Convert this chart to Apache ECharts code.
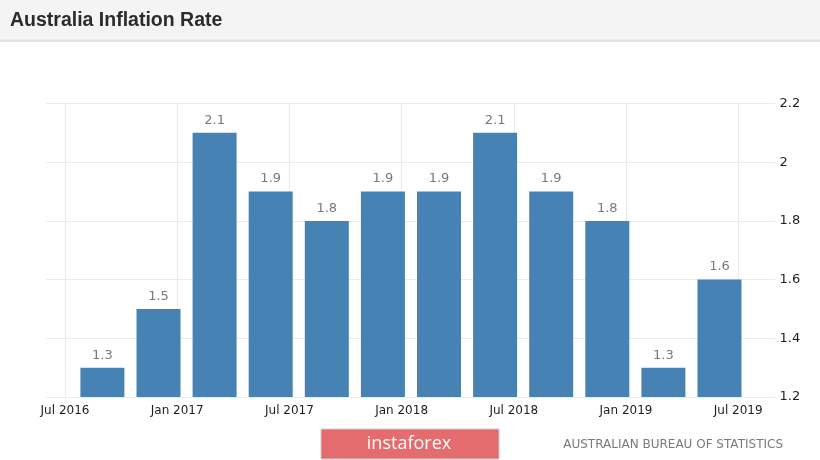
<!DOCTYPE html>
<html>
<head>
<meta charset="utf-8">
<script src="https://cdn.jsdelivr.net/npm/echarts@6/dist/echarts.min.js"></script>
<style>html,body{margin:0;padding:0;background:#fff}#c{width:820px;height:460px}</style>
</head>
<body>
<div id="c"></div>
<script>
// Quarterly observations (year, month) and inflation rate (%)
const periods = ['2016-09','2016-12','2017-03','2017-06','2017-09','2017-12','2018-03','2018-06','2018-09','2018-12','2019-03','2019-06'];
const rates = [1.3, 1.5, 2.1, 1.9, 1.8, 1.9, 1.9, 2.1, 1.9, 1.8, 1.3, 1.6];
// X tick labels (every six months starting Jul 2016)
const tickLabels = ['Jul 2016','Jan 2017','Jul 2017','Jan 2018','Jul 2018','Jan 2019','Jul 2019'];
const yTicks = [1.2, 1.4, 1.6, 1.8, 2, 2.2];

const monthNames = ['Jan','Feb','Mar','Apr','May','Jun','Jul','Aug','Sep','Oct','Nov','Dec'];
const base = 2016 * 12 + 6; // Jul 2016
function monthIndex(p){ const [y,m] = p.split('-').map(Number); return y*12 + (m-1) - base; }
function labelOf(idx){ const t = base + idx; return monthNames[t % 12] + ' ' + Math.floor(t/12); }
const tickValues = tickLabels.map(s => { const [mn, yr] = s.split(' '); return Number(yr)*12 + monthNames.indexOf(mn) - base; });
const seriesData = periods.map((p,i) => [monthIndex(p), rates[i]]);

const chart = echarts.init(document.getElementById('c'));
chart.setOption({
  animation: false,
  backgroundColor: '#ffffff',
  title: {
    text: 'Australia Inflation Rate',
    left: 5, top: 6,
    textStyle: { fontFamily: 'Liberation Sans, Arial', fontSize: 19.5, fontWeight: 'bold', color: '#2b2b2b' }
  },
  graphic: [
    { type: 'rect', z: -10, shape: { x: 0, y: 0, width: 820, height: 40 }, style: { fill: '#f4f4f4' } },
    { type: 'rect', z: -10, shape: { x: 0, y: 39.5, width: 820, height: 2.5 }, style: { fill: '#e2e2e2' } },
    { type: 'rect', shape: { x: 321, y: 429, width: 178, height: 30 }, style: { fill: '#e46c6e', stroke: '#d9c7c7', lineWidth: 1 } },
    { type: 'text', x: 409, y: 444, style: { text: 'instaforex', fill: '#ffffff', font: '18px "Open Sans", sans-serif', align: 'center', verticalAlign: 'middle' } },
    { type: 'text', x: 783, y: 445, style: { text: 'AUSTRALIAN BUREAU OF STATISTICS', fill: '#7a7a7a', font: '12px "DejaVu Sans", sans-serif', align: 'right', verticalAlign: 'middle' } }
  ],
  grid: { left: 46.3, right: 44.4, top: 103.5, bottom: 63 },
  xAxis: {
    type: 'value',
    min: -1, max: 38,
    axisLine: { show: false },
    axisTick: { show: false, customValues: tickValues },
    axisLabel: {
      customValues: tickValues,
      formatter: v => labelOf(v),
      color: '#1e1e1e', fontFamily: 'DejaVu Sans', fontSize: 12, margin: 8
    },
    splitLine: { show: true, lineStyle: { color: '#ebebeb', width: 1 } }
  },
  yAxis: {
    type: 'value',
    position: 'right',
    min: 1.2, max: 2.2, interval: 0.2,
    axisLine: { show: false },
    axisTick: { show: false },
    axisLabel: { color: '#1e1e1e', fontFamily: 'DejaVu Sans', fontSize: 13, margin: 4 },
    splitLine: { lineStyle: { color: '#ebebeb', width: 1 } }
  },
  series: [{
    type: 'bar',
    data: seriesData,
    barWidth: 44,
    itemStyle: { color: '#4682b4' },
    label: {
      show: true, position: 'top', distance: 6,
      formatter: p => String(p.value[1]),
      color: '#7a7a7a', fontFamily: 'DejaVu Sans', fontSize: 13
    }
  }]
});
</script>
</body>
</html>
